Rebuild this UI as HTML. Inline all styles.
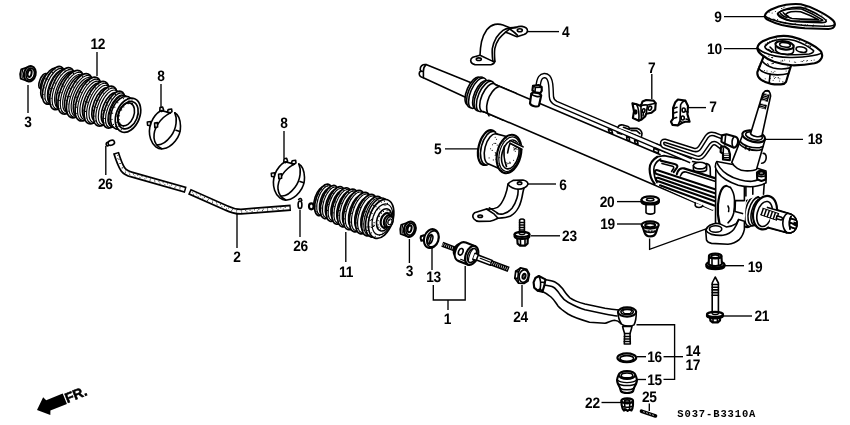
<!DOCTYPE html>
<html><head><meta charset="utf-8"><title>Steering gear box</title>
<style>
html,body{margin:0;padding:0;background:#fff;}
body{width:850px;height:425px;overflow:hidden;}
svg{display:block;filter:grayscale(1) blur(0.35px);}
.l{font-family:"Liberation Sans",sans-serif;font-weight:bold;font-size:15.1px;text-rendering:geometricPrecision;letter-spacing:-0.3px;fill:#000;text-anchor:middle;}
.m{font-family:"Liberation Mono",monospace;font-size:12px;fill:#000;}
.k{stroke:#000;stroke-width:1.6;fill:none;stroke-linecap:round;stroke-linejoin:round;}
.w{stroke:#000;stroke-width:1.6;fill:#fff;stroke-linecap:round;stroke-linejoin:round;}
.t{stroke:#000;stroke-width:1.15;fill:none;stroke-linecap:round;stroke-linejoin:round;}
.tw{stroke:#000;stroke-width:1.15;fill:#fff;stroke-linecap:round;stroke-linejoin:round;}
.h{stroke:#000;stroke-width:2.15;fill:none;stroke-linecap:round;stroke-linejoin:round;}
.hw{stroke:#000;stroke-width:2.15;fill:#fff;stroke-linecap:round;stroke-linejoin:round;}
.bw{stroke:#000;stroke-width:1.7;fill:#fff;stroke-linecap:round;stroke-linejoin:round;}
.ld{stroke:#000;stroke-width:1.35;fill:none;}
.b{fill:#000;stroke:none;}
</style></head><body>
<svg width="850" height="425" viewBox="0 0 850 425">
<rect width="850" height="425" fill="#fff"/>
<!-- 10_boots.py -->
<g><ellipse class="w" cx="43.0" cy="81.0" rx="3.2" ry="8.0" transform="rotate(21.9 43.0 81.0)"/>
<ellipse class="w" cx="45.5" cy="82.0" rx="3.8" ry="9.5" transform="rotate(21.9 45.5 82.0)"/>
<ellipse class="w" cx="50.1" cy="83.8" rx="7.6" ry="16.8" transform="rotate(21.9 50.1 83.8)"/>
<circle class="b" cx="44.2" cy="97.6" r="0.6"/>
<circle class="b" cx="42.6" cy="95.5" r="0.6"/>
<circle class="b" cx="42.2" cy="90.0" r="0.6"/>
<circle class="b" cx="42.9" cy="86.0" r="0.6"/>
<circle class="b" cx="45.6" cy="78.8" r="0.6"/>
<circle class="b" cx="48.4" cy="74.3" r="0.6"/>
<circle class="b" cx="51.2" cy="71.3" r="0.6"/>
<circle class="b" cx="54.9" cy="69.7" r="0.6"/>
<ellipse class="bw" cx="53.6" cy="85.3" rx="9.0" ry="20.0" transform="rotate(21.9 53.6 85.3)"/>
<circle class="b" cx="46.9" cy="102.2" r="0.6"/>
<circle class="b" cx="44.3" cy="98.8" r="0.6"/>
<circle class="b" cx="43.8" cy="94.5" r="0.6"/>
<circle class="b" cx="44.8" cy="87.8" r="0.6"/>
<circle class="b" cx="47.9" cy="79.5" r="0.6"/>
<circle class="b" cx="52.4" cy="72.5" r="0.6"/>
<circle class="b" cx="55.1" cy="69.9" r="0.6"/>
<circle class="b" cx="59.0" cy="68.2" r="0.6"/>
<ellipse class="t" cx="55.3" cy="86.0" rx="8.4" ry="18.7" transform="rotate(21.9 55.3 86.0)"/>
<ellipse class="t" cx="56.9" cy="86.6" rx="7.7" ry="17.2" transform="rotate(21.9 56.9 86.6)"/>
<ellipse class="w" cx="58.7" cy="87.3" rx="8.6" ry="19.1" transform="rotate(21.9 58.7 87.3)"/>
<circle class="b" cx="51.5" cy="102.9" r="0.6"/>
<circle class="b" cx="49.6" cy="99.0" r="0.6"/>
<circle class="b" cx="49.5" cy="94.6" r="0.6"/>
<circle class="b" cx="50.6" cy="88.7" r="0.6"/>
<circle class="b" cx="54.1" cy="80.1" r="0.6"/>
<circle class="b" cx="56.1" cy="77.1" r="0.6"/>
<circle class="b" cx="61.4" cy="71.8" r="0.6"/>
<circle class="b" cx="63.9" cy="71.0" r="0.6"/>
<ellipse class="bw" cx="62.2" cy="88.7" rx="10.0" ry="22.3" transform="rotate(21.9 62.2 88.7)"/>
<circle class="b" cx="54.5" cy="107.7" r="0.6"/>
<circle class="b" cx="52.0" cy="104.7" r="0.6"/>
<circle class="b" cx="51.2" cy="98.3" r="0.6"/>
<circle class="b" cx="53.1" cy="88.6" r="0.6"/>
<circle class="b" cx="55.3" cy="83.2" r="0.6"/>
<circle class="b" cx="60.3" cy="75.0" r="0.6"/>
<circle class="b" cx="65.0" cy="70.6" r="0.6"/>
<circle class="b" cx="68.6" cy="69.5" r="0.6"/>
<ellipse class="t" cx="63.9" cy="89.4" rx="9.5" ry="21.0" transform="rotate(21.9 63.9 89.4)"/>
<ellipse class="t" cx="65.5" cy="90.0" rx="8.8" ry="19.5" transform="rotate(21.9 65.5 90.0)"/>
<ellipse class="w" cx="67.3" cy="90.8" rx="9.0" ry="20.0" transform="rotate(21.9 67.3 90.8)"/>
<circle class="b" cx="59.8" cy="107.3" r="0.6"/>
<circle class="b" cx="58.2" cy="105.1" r="0.6"/>
<circle class="b" cx="57.5" cy="100.0" r="0.6"/>
<circle class="b" cx="58.6" cy="92.9" r="0.6"/>
<circle class="b" cx="62.0" cy="84.2" r="0.6"/>
<circle class="b" cx="65.3" cy="79.0" r="0.6"/>
<circle class="b" cx="69.1" cy="75.1" r="0.6"/>
<circle class="b" cx="73.3" cy="73.7" r="0.6"/>
<ellipse class="bw" cx="70.9" cy="92.2" rx="10.4" ry="23.2" transform="rotate(21.9 70.9 92.2)"/>
<circle class="b" cx="62.2" cy="111.7" r="0.6"/>
<circle class="b" cx="60.0" cy="108.5" r="0.6"/>
<circle class="b" cx="59.5" cy="100.3" r="0.6"/>
<circle class="b" cx="61.1" cy="92.6" r="0.6"/>
<circle class="b" cx="63.7" cy="86.1" r="0.6"/>
<circle class="b" cx="68.8" cy="77.8" r="0.6"/>
<circle class="b" cx="73.5" cy="73.4" r="0.6"/>
<circle class="b" cx="78.5" cy="72.2" r="0.6"/>
<ellipse class="t" cx="72.6" cy="92.9" rx="9.9" ry="21.9" transform="rotate(21.9 72.6 92.9)"/>
<ellipse class="t" cx="74.1" cy="93.5" rx="9.2" ry="20.4" transform="rotate(21.9 74.1 93.5)"/>
<ellipse class="w" cx="75.9" cy="94.2" rx="9.1" ry="20.2" transform="rotate(21.9 75.9 94.2)"/>
<circle class="b" cx="68.1" cy="110.8" r="0.6"/>
<circle class="b" cx="66.6" cy="108.2" r="0.6"/>
<circle class="b" cx="66.3" cy="100.6" r="0.6"/>
<circle class="b" cx="67.0" cy="96.7" r="0.6"/>
<circle class="b" cx="70.1" cy="88.4" r="0.6"/>
<circle class="b" cx="74.5" cy="81.5" r="0.6"/>
<circle class="b" cx="77.4" cy="78.6" r="0.6"/>
<circle class="b" cx="81.8" cy="76.9" r="0.6"/>
<ellipse class="bw" cx="79.5" cy="95.7" rx="10.5" ry="23.4" transform="rotate(21.9 79.5 95.7)"/>
<circle class="b" cx="71.5" cy="115.7" r="0.6"/>
<circle class="b" cx="68.2" cy="111.1" r="0.6"/>
<circle class="b" cx="68.0" cy="104.0" r="0.6"/>
<circle class="b" cx="69.5" cy="96.6" r="0.6"/>
<circle class="b" cx="73.5" cy="87.0" r="0.6"/>
<circle class="b" cx="76.7" cy="82.0" r="0.6"/>
<circle class="b" cx="82.5" cy="76.5" r="0.6"/>
<circle class="b" cx="86.6" cy="75.4" r="0.6"/>
<ellipse class="t" cx="81.2" cy="96.4" rx="9.9" ry="22.1" transform="rotate(21.9 81.2 96.4)"/>
<ellipse class="t" cx="82.7" cy="97.0" rx="9.3" ry="20.6" transform="rotate(21.9 82.7 97.0)"/>
<ellipse class="w" cx="84.5" cy="97.7" rx="9.0" ry="20.0" transform="rotate(21.9 84.5 97.7)"/>
<circle class="b" cx="77.0" cy="114.2" r="0.6"/>
<circle class="b" cx="75.2" cy="111.2" r="0.6"/>
<circle class="b" cx="74.9" cy="104.5" r="0.6"/>
<circle class="b" cx="76.6" cy="97.2" r="0.6"/>
<circle class="b" cx="78.9" cy="91.8" r="0.6"/>
<circle class="b" cx="83.0" cy="85.3" r="0.6"/>
<circle class="b" cx="85.8" cy="82.4" r="0.6"/>
<circle class="b" cx="90.7" cy="80.7" r="0.6"/>
<ellipse class="bw" cx="88.1" cy="99.1" rx="10.4" ry="23.2" transform="rotate(21.9 88.1 99.1)"/>
<circle class="b" cx="79.2" cy="118.5" r="0.6"/>
<circle class="b" cx="76.8" cy="113.5" r="0.6"/>
<circle class="b" cx="76.7" cy="107.2" r="0.6"/>
<circle class="b" cx="77.9" cy="101.2" r="0.6"/>
<circle class="b" cx="81.2" cy="92.5" r="0.6"/>
<circle class="b" cx="86.2" cy="84.5" r="0.6"/>
<circle class="b" cx="89.5" cy="81.2" r="0.6"/>
<circle class="b" cx="94.9" cy="79.0" r="0.6"/>
<ellipse class="t" cx="89.8" cy="99.8" rx="9.9" ry="21.9" transform="rotate(21.9 89.8 99.8)"/>
<ellipse class="t" cx="91.3" cy="100.4" rx="9.2" ry="20.4" transform="rotate(21.9 91.3 100.4)"/>
<ellipse class="w" cx="93.2" cy="101.2" rx="8.7" ry="19.3" transform="rotate(21.9 93.2 101.2)"/>
<circle class="b" cx="86.5" cy="117.4" r="0.6"/>
<circle class="b" cx="84.4" cy="114.8" r="0.6"/>
<circle class="b" cx="83.8" cy="110.1" r="0.6"/>
<circle class="b" cx="85.4" cy="101.3" r="0.6"/>
<circle class="b" cx="87.2" cy="96.6" r="0.6"/>
<circle class="b" cx="90.9" cy="90.3" r="0.6"/>
<circle class="b" cx="95.1" cy="86.0" r="0.6"/>
<circle class="b" cx="99.4" cy="84.8" r="0.6"/>
<ellipse class="bw" cx="96.7" cy="102.6" rx="10.1" ry="22.5" transform="rotate(21.9 96.7 102.6)"/>
<circle class="b" cx="89.0" cy="121.8" r="0.6"/>
<circle class="b" cx="86.1" cy="118.0" r="0.6"/>
<circle class="b" cx="85.6" cy="111.4" r="0.6"/>
<circle class="b" cx="87.6" cy="102.2" r="0.6"/>
<circle class="b" cx="90.9" cy="94.6" r="0.6"/>
<circle class="b" cx="95.4" cy="87.9" r="0.6"/>
<circle class="b" cx="98.7" cy="84.8" r="0.6"/>
<circle class="b" cx="103.2" cy="83.1" r="0.6"/>
<ellipse class="t" cx="98.4" cy="103.3" rx="9.5" ry="21.2" transform="rotate(21.9 98.4 103.3)"/>
<ellipse class="t" cx="100.0" cy="103.9" rx="8.9" ry="19.7" transform="rotate(21.9 100.0 103.9)"/>
<ellipse class="w" cx="101.8" cy="104.6" rx="8.1" ry="18.0" transform="rotate(21.9 101.8 104.6)"/>
<circle class="b" cx="95.4" cy="119.5" r="0.6"/>
<circle class="b" cx="93.3" cy="115.8" r="0.6"/>
<circle class="b" cx="93.3" cy="110.4" r="0.6"/>
<circle class="b" cx="94.0" cy="106.7" r="0.6"/>
<circle class="b" cx="96.4" cy="100.3" r="0.6"/>
<circle class="b" cx="99.7" cy="94.6" r="0.6"/>
<circle class="b" cx="103.3" cy="90.8" r="0.6"/>
<circle class="b" cx="107.0" cy="89.4" r="0.6"/>
<ellipse class="bw" cx="105.3" cy="106.1" rx="9.5" ry="21.2" transform="rotate(21.9 105.3 106.1)"/>
<circle class="b" cx="97.3" cy="123.7" r="0.6"/>
<circle class="b" cx="95.5" cy="120.9" r="0.6"/>
<circle class="b" cx="94.9" cy="116.1" r="0.6"/>
<circle class="b" cx="96.3" cy="107.5" r="0.6"/>
<circle class="b" cx="99.1" cy="100.1" r="0.6"/>
<circle class="b" cx="103.4" cy="93.1" r="0.6"/>
<circle class="b" cx="108.6" cy="88.5" r="0.6"/>
<circle class="b" cx="111.9" cy="87.9" r="0.6"/>
<ellipse class="t" cx="107.0" cy="106.8" rx="9.0" ry="19.9" transform="rotate(21.9 107.0 106.8)"/>
<ellipse class="t" cx="108.6" cy="107.4" rx="8.3" ry="18.4" transform="rotate(21.9 108.6 107.4)"/>
<ellipse class="w" cx="110.4" cy="108.1" rx="7.4" ry="16.4" transform="rotate(21.9 110.4 108.1)"/>
<circle class="b" cx="104.5" cy="121.4" r="0.6"/>
<circle class="b" cx="102.9" cy="118.7" r="0.6"/>
<circle class="b" cx="102.7" cy="114.0" r="0.6"/>
<circle class="b" cx="103.4" cy="110.3" r="0.6"/>
<circle class="b" cx="106.5" cy="102.3" r="0.6"/>
<circle class="b" cx="109.4" cy="98.0" r="0.6"/>
<circle class="b" cx="112.8" cy="95.0" r="0.6"/>
<circle class="b" cx="115.5" cy="94.5" r="0.6"/>
<ellipse class="bw" cx="114.0" cy="109.6" rx="8.8" ry="19.6" transform="rotate(21.9 114.0 109.6)"/>
<circle class="b" cx="106.9" cy="125.8" r="0.6"/>
<circle class="b" cx="104.9" cy="122.9" r="0.6"/>
<circle class="b" cx="104.4" cy="118.5" r="0.6"/>
<circle class="b" cx="105.9" cy="110.1" r="0.6"/>
<circle class="b" cx="107.8" cy="105.1" r="0.6"/>
<circle class="b" cx="111.3" cy="98.9" r="0.6"/>
<circle class="b" cx="115.5" cy="94.4" r="0.6"/>
<circle class="b" cx="119.2" cy="92.8" r="0.6"/>
<ellipse class="t" cx="115.7" cy="110.2" rx="8.2" ry="18.3" transform="rotate(21.9 115.7 110.2)"/>
<ellipse class="t" cx="117.2" cy="110.8" rx="7.6" ry="16.8" transform="rotate(21.9 117.2 110.8)"/>
<ellipse class="w" cx="118.7" cy="111.4" rx="8.4" ry="16.8" transform="rotate(21.9 118.7 111.4)"/>
<circle class="b" cx="112.7" cy="125.2" r="0.6"/>
<circle class="b" cx="110.9" cy="123.1" r="0.6"/>
<circle class="b" cx="110.1" cy="119.0" r="0.6"/>
<circle class="b" cx="110.8" cy="113.1" r="0.6"/>
<circle class="b" cx="112.8" cy="107.3" r="0.6"/>
<circle class="b" cx="116.3" cy="101.6" r="0.6"/>
<circle class="b" cx="119.3" cy="98.7" r="0.6"/>
<circle class="b" cx="124.0" cy="97.4" r="0.6"/>
<ellipse class="w" cx="122.0" cy="112.8" rx="10.3" ry="17.2" transform="rotate(21.9 122.0 112.8)"/>
<circle class="b" cx="115.4" cy="126.6" r="0.6"/>
<circle class="b" cx="113.4" cy="124.4" r="0.6"/>
<circle class="b" cx="112.0" cy="119.4" r="0.6"/>
<circle class="b" cx="112.6" cy="113.2" r="0.6"/>
<circle class="b" cx="114.8" cy="107.2" r="0.6"/>
<circle class="b" cx="117.8" cy="102.7" r="0.6"/>
<circle class="b" cx="123.4" cy="98.6" r="0.6"/>
<circle class="b" cx="127.6" cy="98.5" r="0.6"/>
<ellipse class="bw" cx="128.0" cy="115.2" rx="11.7" ry="17.8" transform="rotate(21.9 128.0 115.2)"/>
<circle class="b" cx="121.3" cy="129.7" r="0.6"/>
<circle class="b" cx="118.1" cy="126.3" r="0.6"/>
<circle class="b" cx="116.9" cy="122.3" r="0.6"/>
<circle class="b" cx="117.0" cy="116.1" r="0.6"/>
<circle class="b" cx="119.5" cy="109.0" r="0.6"/>
<circle class="b" cx="123.1" cy="104.0" r="0.6"/>
<circle class="b" cx="129.0" cy="100.2" r="0.6"/>
<circle class="b" cx="132.0" cy="99.9" r="0.6"/>
<ellipse class="bw" cx="128.0" cy="115.2" rx="9.4" ry="14.3" transform="rotate(21.9 128.0 115.2)"/>
<circle class="b" cx="123.4" cy="126.8" r="0.6"/>
<circle class="b" cx="119.9" cy="123.1" r="0.6"/>
<circle class="b" cx="119.2" cy="119.7" r="0.6"/>
<circle class="b" cx="119.5" cy="115.8" r="0.6"/>
<circle class="b" cx="121.6" cy="109.9" r="0.6"/>
<circle class="b" cx="123.8" cy="106.9" r="0.6"/>
<circle class="b" cx="128.2" cy="103.7" r="0.6"/>
<circle class="b" cx="132.5" cy="103.5" r="0.6"/>
<ellipse class="k" cx="126.1" cy="114.4" rx="7.7" ry="12.0" transform="rotate(21.9 126.1 114.4)"/></g><g><ellipse class="hw" cx="311.3" cy="206.3" rx="2.3" ry="3"/><ellipse class="w" cx="320.7" cy="199.1" rx="5.9" ry="13.1" transform="rotate(18.2 320.7 199.1)"/>
<circle class="b" cx="316.5" cy="209.4" r="0.6"/>
<circle class="b" cx="315.5" cy="207.5" r="0.6"/>
<circle class="b" cx="315.1" cy="204.9" r="0.6"/>
<circle class="b" cx="315.7" cy="200.4" r="0.6"/>
<circle class="b" cx="316.9" cy="196.4" r="0.6"/>
<circle class="b" cx="319.5" cy="191.3" r="0.6"/>
<circle class="b" cx="321.6" cy="189.1" r="0.6"/>
<circle class="b" cx="323.9" cy="188.3" r="0.6"/>
<ellipse class="bw" cx="323.4" cy="199.9" rx="7.4" ry="16.5" transform="rotate(18.2 323.4 199.9)"/>
<circle class="b" cx="318.5" cy="213.8" r="0.6"/>
<circle class="b" cx="316.8" cy="211.7" r="0.6"/>
<circle class="b" cx="316.1" cy="206.0" r="0.6"/>
<circle class="b" cx="317.1" cy="199.8" r="0.6"/>
<circle class="b" cx="319.1" cy="194.5" r="0.6"/>
<circle class="b" cx="321.8" cy="189.7" r="0.6"/>
<circle class="b" cx="324.9" cy="186.7" r="0.6"/>
<circle class="b" cx="327.6" cy="185.9" r="0.6"/>
<ellipse class="t" cx="324.7" cy="200.4" rx="6.8" ry="15.2" transform="rotate(18.2 324.7 200.4)"/>
<ellipse class="w" cx="326.8" cy="201.1" rx="6.3" ry="13.9" transform="rotate(18.2 326.8 201.1)"/>
<circle class="b" cx="322.9" cy="212.5" r="0.6"/>
<circle class="b" cx="321.3" cy="210.4" r="0.6"/>
<circle class="b" cx="320.9" cy="207.1" r="0.6"/>
<circle class="b" cx="321.3" cy="203.3" r="0.6"/>
<circle class="b" cx="322.6" cy="198.5" r="0.6"/>
<circle class="b" cx="325.0" cy="193.6" r="0.6"/>
<circle class="b" cx="327.4" cy="190.7" r="0.6"/>
<circle class="b" cx="330.2" cy="189.5" r="0.6"/>
<ellipse class="bw" cx="329.5" cy="202.0" rx="7.8" ry="17.3" transform="rotate(18.2 329.5 202.0)"/>
<circle class="b" cx="323.7" cy="216.1" r="0.6"/>
<circle class="b" cx="322.4" cy="214.0" r="0.6"/>
<circle class="b" cx="321.8" cy="208.0" r="0.6"/>
<circle class="b" cx="322.9" cy="201.8" r="0.6"/>
<circle class="b" cx="325.1" cy="195.9" r="0.6"/>
<circle class="b" cx="327.1" cy="192.2" r="0.6"/>
<circle class="b" cx="330.1" cy="188.7" r="0.6"/>
<circle class="b" cx="333.2" cy="187.1" r="0.6"/>
<ellipse class="t" cx="330.9" cy="202.4" rx="7.2" ry="16.0" transform="rotate(18.2 330.9 202.4)"/>
<ellipse class="w" cx="333.0" cy="203.1" rx="6.6" ry="14.7" transform="rotate(18.2 333.0 203.1)"/>
<circle class="b" cx="328.8" cy="215.3" r="0.6"/>
<circle class="b" cx="327.2" cy="213.5" r="0.6"/>
<circle class="b" cx="326.6" cy="208.9" r="0.6"/>
<circle class="b" cx="327.5" cy="203.2" r="0.6"/>
<circle class="b" cx="329.2" cy="198.3" r="0.6"/>
<circle class="b" cx="331.2" cy="194.8" r="0.6"/>
<circle class="b" cx="334.1" cy="191.6" r="0.6"/>
<circle class="b" cx="336.7" cy="190.8" r="0.6"/>
<ellipse class="bw" cx="335.7" cy="204.0" rx="8.1" ry="18.1" transform="rotate(18.2 335.7 204.0)"/>
<circle class="b" cx="330.6" cy="219.5" r="0.6"/>
<circle class="b" cx="328.0" cy="216.2" r="0.6"/>
<circle class="b" cx="327.5" cy="210.4" r="0.6"/>
<circle class="b" cx="328.5" cy="204.5" r="0.6"/>
<circle class="b" cx="330.7" cy="198.2" r="0.6"/>
<circle class="b" cx="333.3" cy="193.4" r="0.6"/>
<circle class="b" cx="336.2" cy="190.1" r="0.6"/>
<circle class="b" cx="340.4" cy="188.4" r="0.6"/>
<ellipse class="t" cx="337.0" cy="204.4" rx="7.6" ry="16.8" transform="rotate(18.2 337.0 204.4)"/>
<ellipse class="w" cx="339.1" cy="205.1" rx="7.0" ry="15.5" transform="rotate(18.2 339.1 205.1)"/>
<circle class="b" cx="334.6" cy="218.0" r="0.6"/>
<circle class="b" cx="332.7" cy="215.1" r="0.6"/>
<circle class="b" cx="332.4" cy="210.4" r="0.6"/>
<circle class="b" cx="332.9" cy="206.6" r="0.6"/>
<circle class="b" cx="334.6" cy="201.2" r="0.6"/>
<circle class="b" cx="337.9" cy="195.4" r="0.6"/>
<circle class="b" cx="340.4" cy="192.8" r="0.6"/>
<circle class="b" cx="342.3" cy="192.0" r="0.6"/>
<ellipse class="bw" cx="341.8" cy="206.0" rx="8.5" ry="18.9" transform="rotate(18.2 341.8 206.0)"/>
<circle class="b" cx="336.4" cy="222.2" r="0.6"/>
<circle class="b" cx="334.1" cy="219.8" r="0.6"/>
<circle class="b" cx="333.3" cy="212.8" r="0.6"/>
<circle class="b" cx="334.3" cy="206.4" r="0.6"/>
<circle class="b" cx="335.7" cy="201.9" r="0.6"/>
<circle class="b" cx="339.9" cy="194.1" r="0.6"/>
<circle class="b" cx="343.8" cy="190.4" r="0.6"/>
<circle class="b" cx="346.5" cy="189.6" r="0.6"/>
<ellipse class="t" cx="343.2" cy="206.4" rx="7.9" ry="17.6" transform="rotate(18.2 343.2 206.4)"/>
<ellipse class="w" cx="345.3" cy="207.1" rx="7.3" ry="16.3" transform="rotate(18.2 345.3 207.1)"/>
<circle class="b" cx="340.4" cy="220.8" r="0.6"/>
<circle class="b" cx="338.5" cy="218.2" r="0.6"/>
<circle class="b" cx="338.0" cy="214.9" r="0.6"/>
<circle class="b" cx="338.5" cy="209.8" r="0.6"/>
<circle class="b" cx="341.2" cy="201.4" r="0.6"/>
<circle class="b" cx="343.5" cy="197.4" r="0.6"/>
<circle class="b" cx="346.3" cy="194.3" r="0.6"/>
<circle class="b" cx="349.6" cy="193.3" r="0.6"/>
<ellipse class="bw" cx="348.0" cy="208.0" rx="8.9" ry="19.7" transform="rotate(18.2 348.0 208.0)"/>
<circle class="b" cx="341.9" cy="224.8" r="0.6"/>
<circle class="b" cx="339.4" cy="220.9" r="0.6"/>
<circle class="b" cx="339.0" cy="215.4" r="0.6"/>
<circle class="b" cx="339.6" cy="210.6" r="0.6"/>
<circle class="b" cx="341.7" cy="203.3" r="0.6"/>
<circle class="b" cx="345.0" cy="196.9" r="0.6"/>
<circle class="b" cx="348.6" cy="192.6" r="0.6"/>
<circle class="b" cx="352.8" cy="190.9" r="0.6"/>
<ellipse class="t" cx="349.3" cy="208.5" rx="8.3" ry="18.4" transform="rotate(18.2 349.3 208.5)"/>
<ellipse class="w" cx="351.4" cy="209.2" rx="7.7" ry="17.1" transform="rotate(18.2 351.4 209.2)"/>
<circle class="b" cx="346.4" cy="223.6" r="0.6"/>
<circle class="b" cx="344.4" cy="221.1" r="0.6"/>
<circle class="b" cx="343.8" cy="217.3" r="0.6"/>
<circle class="b" cx="344.8" cy="209.3" r="0.6"/>
<circle class="b" cx="346.3" cy="204.9" r="0.6"/>
<circle class="b" cx="349.2" cy="199.3" r="0.6"/>
<circle class="b" cx="352.5" cy="195.6" r="0.6"/>
<circle class="b" cx="356.0" cy="194.6" r="0.6"/>
<ellipse class="bw" cx="354.1" cy="210.0" rx="9.2" ry="20.5" transform="rotate(18.2 354.1 210.0)"/>
<circle class="b" cx="347.7" cy="227.6" r="0.6"/>
<circle class="b" cx="345.1" cy="223.4" r="0.6"/>
<circle class="b" cx="344.6" cy="218.8" r="0.6"/>
<circle class="b" cx="345.6" cy="211.5" r="0.6"/>
<circle class="b" cx="348.0" cy="204.2" r="0.6"/>
<circle class="b" cx="350.5" cy="199.2" r="0.6"/>
<circle class="b" cx="355.2" cy="193.6" r="0.6"/>
<circle class="b" cx="358.4" cy="192.1" r="0.6"/>
<ellipse class="t" cx="355.4" cy="210.5" rx="8.6" ry="19.2" transform="rotate(18.2 355.4 210.5)"/>
<ellipse class="w" cx="357.5" cy="211.2" rx="7.7" ry="17.1" transform="rotate(18.2 357.5 211.2)"/>
<circle class="b" cx="352.9" cy="225.7" r="0.6"/>
<circle class="b" cx="350.3" cy="222.4" r="0.6"/>
<circle class="b" cx="349.9" cy="219.2" r="0.6"/>
<circle class="b" cx="350.6" cy="212.6" r="0.6"/>
<circle class="b" cx="352.9" cy="205.8" r="0.6"/>
<circle class="b" cx="355.5" cy="201.1" r="0.6"/>
<circle class="b" cx="358.3" cy="197.9" r="0.6"/>
<circle class="b" cx="361.6" cy="196.5" r="0.6"/>
<ellipse class="bw" cx="360.2" cy="212.1" rx="9.2" ry="20.5" transform="rotate(18.2 360.2 212.1)"/>
<circle class="b" cx="353.7" cy="229.5" r="0.6"/>
<circle class="b" cx="351.3" cy="225.8" r="0.6"/>
<circle class="b" cx="350.8" cy="222.1" r="0.6"/>
<circle class="b" cx="351.7" cy="213.5" r="0.6"/>
<circle class="b" cx="353.7" cy="207.2" r="0.6"/>
<circle class="b" cx="357.1" cy="200.5" r="0.6"/>
<circle class="b" cx="362.0" cy="195.2" r="0.6"/>
<circle class="b" cx="365.1" cy="194.1" r="0.6"/>
<ellipse class="t" cx="361.6" cy="212.5" rx="8.6" ry="19.2" transform="rotate(18.2 361.6 212.5)"/>
<ellipse class="w" cx="363.7" cy="213.2" rx="7.7" ry="17.1" transform="rotate(18.2 363.7 213.2)"/>
<circle class="b" cx="358.3" cy="227.5" r="0.6"/>
<circle class="b" cx="356.5" cy="224.5" r="0.6"/>
<circle class="b" cx="356.1" cy="219.2" r="0.6"/>
<circle class="b" cx="356.7" cy="214.7" r="0.6"/>
<circle class="b" cx="358.9" cy="208.2" r="0.6"/>
<circle class="b" cx="361.5" cy="203.2" r="0.6"/>
<circle class="b" cx="364.7" cy="199.7" r="0.6"/>
<circle class="b" cx="368.0" cy="198.6" r="0.6"/>
<ellipse class="bw" cx="366.4" cy="214.1" rx="9.2" ry="20.5" transform="rotate(18.2 366.4 214.1)"/>
<circle class="b" cx="360.0" cy="231.6" r="0.6"/>
<circle class="b" cx="357.6" cy="228.4" r="0.6"/>
<circle class="b" cx="356.9" cy="222.9" r="0.6"/>
<circle class="b" cx="358.2" cy="214.0" r="0.6"/>
<circle class="b" cx="360.5" cy="207.6" r="0.6"/>
<circle class="b" cx="364.4" cy="200.9" r="0.6"/>
<circle class="b" cx="368.4" cy="197.0" r="0.6"/>
<circle class="b" cx="370.9" cy="196.2" r="0.6"/>
<ellipse class="t" cx="367.7" cy="214.5" rx="8.6" ry="19.2" transform="rotate(18.2 367.7 214.5)"/>
<ellipse class="w" cx="369.8" cy="215.2" rx="7.7" ry="17.1" transform="rotate(18.2 369.8 215.2)"/>
<circle class="b" cx="364.5" cy="229.5" r="0.6"/>
<circle class="b" cx="362.5" cy="226.1" r="0.6"/>
<circle class="b" cx="362.2" cy="221.5" r="0.6"/>
<circle class="b" cx="362.7" cy="217.7" r="0.6"/>
<circle class="b" cx="364.4" cy="211.6" r="0.6"/>
<circle class="b" cx="367.6" cy="205.4" r="0.6"/>
<circle class="b" cx="370.2" cy="202.3" r="0.6"/>
<circle class="b" cx="373.5" cy="200.6" r="0.6"/>
<ellipse class="bw" cx="372.5" cy="216.1" rx="9.2" ry="20.5" transform="rotate(18.2 372.5 216.1)"/>
<circle class="b" cx="366.7" cy="233.9" r="0.6"/>
<circle class="b" cx="363.7" cy="230.1" r="0.6"/>
<circle class="b" cx="363.1" cy="223.9" r="0.6"/>
<circle class="b" cx="364.3" cy="216.2" r="0.6"/>
<circle class="b" cx="365.8" cy="211.6" r="0.6"/>
<circle class="b" cx="370.2" cy="203.3" r="0.6"/>
<circle class="b" cx="374.0" cy="199.4" r="0.6"/>
<circle class="b" cx="376.8" cy="198.2" r="0.6"/>
<ellipse class="t" cx="373.9" cy="216.5" rx="8.6" ry="19.2" transform="rotate(18.2 373.9 216.5)"/>
<ellipse class="w" cx="377.1" cy="217.6" rx="10.2" ry="20.3" transform="rotate(18.2 377.1 217.6)"/>
<circle class="b" cx="370.0" cy="234.5" r="0.6"/>
<circle class="b" cx="367.6" cy="230.5" r="0.6"/>
<circle class="b" cx="367.0" cy="226.9" r="0.6"/>
<circle class="b" cx="368.0" cy="217.2" r="0.6"/>
<circle class="b" cx="369.8" cy="211.9" r="0.6"/>
<circle class="b" cx="373.5" cy="205.3" r="0.6"/>
<circle class="b" cx="378.8" cy="200.5" r="0.6"/>
<circle class="b" cx="382.4" cy="199.9" r="0.6"/>
<ellipse class="bw" cx="381.1" cy="218.9" rx="11.7" ry="20.2" transform="rotate(18.2 381.1 218.9)"/>
<circle class="b" cx="375.2" cy="236.3" r="0.6"/>
<circle class="b" cx="371.4" cy="232.8" r="0.6"/>
<circle class="b" cx="369.8" cy="226.8" r="0.6"/>
<circle class="b" cx="370.2" cy="220.3" r="0.6"/>
<circle class="b" cx="372.1" cy="213.5" r="0.6"/>
<circle class="b" cx="376.0" cy="206.7" r="0.6"/>
<circle class="b" cx="381.5" cy="202.0" r="0.6"/>
<circle class="b" cx="384.5" cy="201.2" r="0.6"/>
<ellipse class="t" cx="382.4" cy="219.4" rx="9.6" ry="16.0" transform="rotate(18.2 382.4 219.4)"/>
<ellipse class="w" cx="384.1" cy="219.9" rx="7.1" ry="11.5" transform="rotate(18.2 384.1 219.9)"/>
<circle class="b" cx="380.6" cy="228.9" r="0.6"/>
<circle class="b" cx="378.9" cy="227.2" r="0.6"/>
<circle class="b" cx="378.1" cy="224.9" r="0.6"/>
<circle class="b" cx="378.1" cy="220.6" r="0.6"/>
<circle class="b" cx="379.5" cy="216.2" r="0.6"/>
<circle class="b" cx="381.4" cy="213.2" r="0.6"/>
<circle class="b" cx="383.4" cy="211.4" r="0.6"/>
<circle class="b" cx="387.1" cy="210.7" r="0.6"/>
<ellipse class="hw" cx="385.8" cy="220.5" rx="4.8" ry="7.5" transform="rotate(18.2 385.8 220.5)"/>
<ellipse class="hw" cx="387.9" cy="221.1" rx="3.8" ry="6.0" transform="rotate(18.2 387.9 221.1)"/>
<ellipse class="w" cx="389.5" cy="221.7" rx="3.3" ry="5.2" transform="rotate(18.2 389.5 221.7)"/>
<ellipse class="t" cx="389.9" cy="221.8" rx="1.9" ry="3.0" transform="rotate(18.2 389.9 221.8)"/><circle class="b" cx="389.7" cy="220.5" r="0.6"/><circle class="b" cx="384.1" cy="230.9" r="0.6"/><circle class="b" cx="374.3" cy="225.7" r="0.6"/><circle class="b" cx="387.4" cy="203.4" r="0.6"/><circle class="b" cx="388.2" cy="222.0" r="0.6"/><circle class="b" cx="385.8" cy="205.1" r="0.6"/><circle class="b" cx="377.3" cy="209.7" r="0.6"/><circle class="b" cx="373.9" cy="225.1" r="0.6"/><circle class="b" cx="371.4" cy="227.5" r="0.6"/><circle class="b" cx="375.3" cy="233.8" r="0.6"/><circle class="b" cx="374.1" cy="222.7" r="0.6"/><circle class="b" cx="373.7" cy="215.6" r="0.6"/><circle class="b" cx="386.3" cy="224.5" r="0.6"/><circle class="b" cx="378.8" cy="207.9" r="0.6"/><circle class="b" cx="371.7" cy="219.3" r="0.6"/><circle class="b" cx="371.5" cy="219.8" r="0.6"/><circle class="b" cx="382.8" cy="233.1" r="0.6"/><circle class="b" cx="379.6" cy="235.5" r="0.6"/><circle class="b" cx="379.8" cy="209.0" r="0.6"/><circle class="b" cx="389.3" cy="212.5" r="0.6"/><circle class="b" cx="384.2" cy="205.1" r="0.6"/><circle class="b" cx="373.5" cy="226.4" r="0.6"/></g>
<!-- 34_bushing.py -->
<g>
<ellipse class="hw" cx="487.6" cy="147.6" rx="9" ry="17.8" transform="rotate(14 487.6 147.6)"/>
<ellipse class="w" cx="489.8" cy="148.2" rx="8.6" ry="17.2" transform="rotate(14 489.8 148.2)"/>
<path class="w" d="M496.3 132.2L509.5 135.5L502 171.3L487.5 165.5Z" style="stroke:none"/>
<ellipse class="w" cx="492.5" cy="149" rx="7.6" ry="15.6" transform="rotate(14 492.5 149)"/>
<path class="w" d="M496.3 133.9L511.5 137.7L503.5 169.5L488.6 164.1Z" style="stroke:none"/>
<path class="k" d="M496.3 133.9L507.5 136.7M488.7 164.1L499 168.6"/>
<ellipse class="hw" cx="509" cy="154" rx="11.8" ry="19.6" transform="rotate(14 509 154)"/>
<ellipse class="t" cx="509.6" cy="154.2" rx="10.2" ry="17.6" transform="rotate(14 509.6 154.2)"/>
<ellipse class="w" cx="510.3" cy="154.5" rx="8.3" ry="14.6" transform="rotate(14 510.3 154.5)"/>
<path class="k" d="M504.5 146C503.5 152 504 160 506.5 166.5"/>
<path class="k" d="M510 143.2L521.5 149.3M511.5 141.6L522.5 147.4M510 143.2C509 146 508 150 507.6 153"/>
<path class="w" d="M512 140.3L523.5 146.2L522.5 150L510.3 143.6Z" style="stroke:none"/>
<path class="k" d="M510.5 143.4L521.8 149.3M511.8 141.2L523 146.8"/>
<circle class="b" cx="495.3" cy="152.5" r="0.55"/><circle class="b" cx="495.8" cy="153.4" r="0.55"/><circle class="b" cx="492.2" cy="150.4" r="0.55"/><circle class="b" cx="496.0" cy="159.2" r="0.55"/><circle class="b" cx="492.5" cy="144.7" r="0.55"/><circle class="b" cx="489.1" cy="157.9" r="0.55"/><circle class="b" cx="499.4" cy="164.8" r="0.55"/><circle class="b" cx="497.5" cy="154.6" r="0.55"/><circle class="b" cx="495.2" cy="137.3" r="0.55"/><circle class="b" cx="494.1" cy="143.4" r="0.55"/><circle class="b" cx="490.6" cy="148.7" r="0.55"/><circle class="b" cx="493.3" cy="159.9" r="0.55"/><circle class="b" cx="495.6" cy="154.8" r="0.55"/><circle class="b" cx="495.2" cy="155.3" r="0.55"/><circle class="b" cx="497.2" cy="145.1" r="0.55"/><circle class="b" cx="499.3" cy="165.6" r="0.55"/><circle class="b" cx="499.2" cy="157.6" r="0.55"/><circle class="b" cx="495.7" cy="143.4" r="0.55"/><circle class="b" cx="496.5" cy="139.2" r="0.55"/><circle class="b" cx="510.2" cy="163.2" r="0.55"/><circle class="b" cx="508.9" cy="163.4" r="0.55"/><circle class="b" cx="506.1" cy="165.7" r="0.55"/><circle class="b" cx="513.7" cy="147.7" r="0.55"/><circle class="b" cx="507.7" cy="163.8" r="0.55"/><circle class="b" cx="506.8" cy="162.8" r="0.55"/><circle class="b" cx="515.8" cy="146.7" r="0.55"/><circle class="b" cx="510.0" cy="162.5" r="0.55"/><circle class="b" cx="514.9" cy="148.4" r="0.55"/><circle class="b" cx="506.2" cy="165.1" r="0.55"/><circle class="b" cx="514.8" cy="149.4" r="0.55"/><circle class="b" cx="514.0" cy="149.9" r="0.55"/><circle class="b" cx="509.8" cy="162.0" r="0.55"/><circle class="b" cx="513.6" cy="160.3" r="0.55"/><circle class="b" cx="517.0" cy="149.5" r="0.55"/><circle class="b" cx="516.3" cy="148.1" r="0.55"/><circle class="b" cx="515.4" cy="148.6" r="0.55"/><circle class="b" cx="515.3" cy="151.3" r="0.55"/><circle class="b" cx="520.6" cy="153.4" r="0.5"/><circle class="b" cx="517.0" cy="137.9" r="0.5"/><circle class="b" cx="501.5" cy="170.2" r="0.5"/><circle class="b" cx="520.3" cy="144.1" r="0.5"/><circle class="b" cx="507.6" cy="172.2" r="0.5"/><circle class="b" cx="498.1" cy="163.2" r="0.5"/><circle class="b" cx="519.4" cy="141.4" r="0.5"/><circle class="b" cx="506.1" cy="138.4" r="0.5"/><circle class="b" cx="515.3" cy="166.9" r="0.5"/><circle class="b" cx="520.3" cy="155.5" r="0.5"/><circle class="b" cx="507.4" cy="172.3" r="0.5"/><circle class="b" cx="504.3" cy="172.0" r="0.5"/><circle class="b" cx="515.2" cy="136.6" r="0.5"/><circle class="b" cx="500.3" cy="168.7" r="0.5"/><circle class="b" cx="501.9" cy="170.6" r="0.5"/><circle class="b" cx="516.9" cy="164.5" r="0.5"/><circle class="b" cx="515.9" cy="166.0" r="0.5"/><circle class="b" cx="502.3" cy="142.9" r="0.5"/><circle class="b" cx="505.3" cy="172.2" r="0.5"/><circle class="b" cx="503.4" cy="141.3" r="0.5"/></g>
<!-- 51_parts9_10.py -->
<g>
<!-- part 9 -->
<path class="hw" d="M764.8 15.9C765.5 13 768 11 771.2 9.500C776 7.200 781 5.500 786 4.700C791 4 796 3.800 800.8 4.200C807 5.600 813 8 817.800 10.600C823 13.200 828 16 831.600 19.100C834 21 835.200 23.400 834.700 25.400C834.200 27.800 831.500 28.800 828.400 29L805 28.300C797 27.600 789 26.600 781.800 25C777 23.800 772.500 22.200 769 20.400C766.500 19.200 764.800 17.600 764.800 15.900Z"/>
<path class="k" d="M764.800 15.900C766.500 17.200 768.500 18.200 771 19.200C778 21.800 788 23.800 798 24.800C808 25.800 820 26.400 828 26.200C831.500 26 834 25.400 834.700 24.400"/>
<path class="k" d="M777.500 13.800C780 11.500 784 9.600 788.100 8.500C792 7.500 796.500 7.100 800.800 7.400C807.500 9 814 12.200 820 15.900C823 17.600 825.500 19.600 826.300 21.200C826 22.200 824.500 22.600 822 22.600L813.600 22.400C806 22.300 799 22 792.400 21.200C788.500 20.600 784.500 19.400 781.800 18C779.500 16.800 777.800 15.200 777.500 13.800Z"/>
<path class="k" d="M777.800 13.200C779.500 11.500 783 10.200 786.800 9.500C791.500 8.800 797 8.600 801.600 9C808.500 11.800 816.500 16 822.800 20.100C822 21 819 21.300 814.300 21.200L800 21.100C797 21 794 20.900 791 20.700C787.500 19.800 784 18.600 781.500 17C779.500 15.800 778 14.400 777.800 13.200Z"/>
<path class="k" d="M785.700 14.300C786.800 13 788.800 12.100 791 11.700C794 11.400 797.500 11.400 800.600 11.700C806.500 13.800 813 16.600 818.600 19.600L801.600 19.100C798.500 19 795 18.900 792 18.500C789.500 17.800 786.500 16 785.700 14.300Z"/>
<path class="h" d="M780.500 13.500C781.500 15 784 16.600 787 17.600M783.200 12.600C784 14 786 15.400 788.500 16.400" style="stroke-width:1.500"/>
</g>
<g>
<!-- part 10 body -->
<path class="hw" d="M763.800 56.100L757.400 72C757 75 758.200 77.600 760.600 79.400C763.500 81.600 767 83 771.200 83.900C775.500 84.600 780 84.600 783.900 83.900L786 82L791.300 64.600Z"/>
<path class="k" d="M762 61C765 64.500 769 66.800 773.300 68C779 69.300 785 69.200 790.300 67.800"/>
<path class="k" d="M758.500 68.600C761 71.600 766 73.600 771.200 74.400C777 75.200 783.500 74.800 788.500 73.400"/>
<path class="k" d="M770.100 74.300L769.100 83.200"/>
<!-- part 10 flange -->
<path class="hw" d="M757.400 47.700C758 45 760 42.800 762.700 41.300C767 39 772 37.300 777.500 36.400C782.500 35.600 787.500 35.800 792.400 36.900C798.500 38.300 804 40.400 809.300 43.200C813.500 45.300 817.500 48 820.400 50.800C822.200 52.800 822.600 55.500 821.600 58C820.200 60.800 817.500 62.500 814.500 63.300C807 64.800 799.500 65.400 792.300 65.300C786 65 780 63.800 774 61.800C769.500 60 765 57.500 761.500 54.600C759 52.600 757.200 50 757.400 47.700Z"/>
<path class="k" d="M757.400 47.700C758.500 49.400 760.500 50.800 763 52C768 54.200 772 55.400 775.400 56.100C781 57.200 787 57.700 792.300 57.500C799 57.400 806 56.800 812 55.800C815 55.300 818 54.800 820.500 53.600"/>
<path class="k" d="M764.800 46.700C766 44.500 768.500 42.800 771.500 41.600C774 40.600 777 39.800 779.700 39.500C784.500 39 789.500 39.400 794.500 40.500C801.500 42.800 808.500 46.400 813.600 50.600C813.800 52 812 53.200 809.300 54C802.500 54.800 795.500 55 788.100 54.600C782 54.200 776 53.200 771.200 51.600C768 50.400 765 48.600 764.800 46.700Z"/>
<ellipse class="hw" cx="784.500" cy="45.300" rx="9.200" ry="4.100" transform="rotate(8 784.5 45.3)"/>
<ellipse class="k" cx="785" cy="44.800" rx="5.400" ry="2.200" transform="rotate(8 785 44.800)"/>
<path class="k" d="M775.500 46.500L775.700 50.500C777.500 53 783 54.600 788 54.400C791 54.200 793.500 53 793.600 51L793.500 47"/>
<ellipse class="k" cx="801.400" cy="49.600" rx="5.400" ry="2.600" transform="rotate(12 801.4 49.6)"/>
<path class="k" d="M770 47L773.500 50.500M768.500 49.500L771.500 52.200"/>
</g>
<circle class="b" cx="777.0" cy="20.7" r="0.50"/><circle class="b" cx="780.8" cy="22.6" r="0.50"/><circle class="b" cx="769.3" cy="18.0" r="0.50"/><circle class="b" cx="777.6" cy="19.5" r="0.50"/><circle class="b" cx="774.1" cy="19.4" r="0.50"/><circle class="b" cx="774.9" cy="19.3" r="0.50"/><circle class="b" cx="773.2" cy="18.9" r="0.50"/><circle class="b" cx="785.4" cy="22.3" r="0.50"/><circle class="b" cx="795.1" cy="23.4" r="0.50"/><circle class="b" cx="801.3" cy="24.5" r="0.50"/><circle class="b" cx="805.3" cy="25.0" r="0.50"/><circle class="b" cx="804.2" cy="25.7" r="0.50"/><circle class="b" cx="786.8" cy="23.5" r="0.50"/><circle class="b" cx="805.0" cy="25.0" r="0.50"/><circle class="b" cx="813.4" cy="25.1" r="0.50"/><circle class="b" cx="806.2" cy="25.8" r="0.50"/><circle class="b" cx="805.4" cy="25.3" r="0.50"/><circle class="b" cx="813.4" cy="25.7" r="0.50"/><circle class="b" cx="812.9" cy="26.2" r="0.50"/><circle class="b" cx="807.4" cy="24.7" r="0.50"/><circle class="b" cx="824.4" cy="25.1" r="0.50"/><circle class="b" cx="781.5" cy="8.4" r="0.50"/><circle class="b" cx="769.2" cy="12.3" r="0.50"/><circle class="b" cx="783.7" cy="7.8" r="0.50"/><circle class="b" cx="784.8" cy="7.1" r="0.50"/><circle class="b" cx="775.4" cy="11.4" r="0.50"/><circle class="b" cx="772.1" cy="12.9" r="0.50"/><circle class="b" cx="782.0" cy="8.7" r="0.50"/><circle class="b" cx="805.1" cy="7.5" r="0.50"/><circle class="b" cx="826.6" cy="19.7" r="0.50"/><circle class="b" cx="816.8" cy="13.3" r="0.50"/><circle class="b" cx="806.8" cy="7.8" r="0.50"/><circle class="b" cx="821.9" cy="15.0" r="0.50"/><circle class="b" cx="805.2" cy="6.7" r="0.50"/><circle class="b" cx="813.0" cy="11.9" r="0.50"/><circle class="b" cx="772.7" cy="57.7" r="0.50"/><circle class="b" cx="763.6" cy="51.9" r="0.50"/><circle class="b" cx="769.1" cy="55.0" r="0.50"/><circle class="b" cx="772.4" cy="57.5" r="0.50"/><circle class="b" cx="771.5" cy="57.5" r="0.50"/><circle class="b" cx="764.6" cy="53.1" r="0.50"/><circle class="b" cx="768.9" cy="56.2" r="0.50"/><circle class="b" cx="794.4" cy="61.9" r="0.50"/><circle class="b" cx="789.5" cy="60.9" r="0.50"/><circle class="b" cx="782.4" cy="60.3" r="0.50"/><circle class="b" cx="795.7" cy="62.2" r="0.50"/><circle class="b" cx="784.7" cy="59.9" r="0.50"/><circle class="b" cx="781.0" cy="60.9" r="0.50"/><circle class="b" cx="782.8" cy="61.0" r="0.50"/><circle class="b" cx="811.3" cy="60.4" r="0.50"/><circle class="b" cx="803.8" cy="60.5" r="0.50"/><circle class="b" cx="806.7" cy="60.9" r="0.50"/><circle class="b" cx="802.6" cy="61.4" r="0.50"/><circle class="b" cx="807.4" cy="60.4" r="0.50"/><circle class="b" cx="801.1" cy="61.2" r="0.50"/><circle class="b" cx="814.1" cy="60.1" r="0.50"/><circle class="b" cx="767.5" cy="42.6" r="0.50"/><circle class="b" cx="774.1" cy="40.1" r="0.50"/><circle class="b" cx="775.4" cy="40.2" r="0.50"/><circle class="b" cx="776.4" cy="38.8" r="0.50"/><circle class="b" cx="765.2" cy="44.0" r="0.50"/><circle class="b" cx="769.5" cy="41.8" r="0.50"/><circle class="b" cx="772.3" cy="40.5" r="0.50"/><circle class="b" cx="808.9" cy="45.4" r="0.50"/><circle class="b" cx="810.0" cy="46.3" r="0.50"/><circle class="b" cx="810.5" cy="46.4" r="0.50"/><circle class="b" cx="806.1" cy="43.6" r="0.50"/><circle class="b" cx="811.0" cy="45.8" r="0.50"/><circle class="b" cx="805.9" cy="43.6" r="0.50"/><circle class="b" cx="799.3" cy="40.3" r="0.50"/><circle class="b" cx="758.8" cy="66.3" r="0.50"/><circle class="b" cx="759.7" cy="68.7" r="0.50"/><circle class="b" cx="760.4" cy="65.9" r="0.50"/><circle class="b" cx="758.9" cy="68.7" r="0.50"/><circle class="b" cx="760.5" cy="65.1" r="0.50"/><circle class="b" cx="760.2" cy="63.6" r="0.50"/><circle class="b" cx="773.1" cy="80.3" r="0.50"/><circle class="b" cx="782.8" cy="81.7" r="0.50"/><circle class="b" cx="779.4" cy="81.0" r="0.50"/><circle class="b" cx="765.2" cy="78.7" r="0.50"/><circle class="b" cx="783.0" cy="82.0" r="0.50"/><circle class="b" cx="770.2" cy="78.4" r="0.50"/><circle class="b" cx="767.6" cy="63.6" r="0.50"/><circle class="b" cx="768.5" cy="64.2" r="0.50"/><circle class="b" cx="773.5" cy="63.6" r="0.50"/><circle class="b" cx="772.6" cy="63.6" r="0.50"/><circle class="b" cx="787.9" cy="66.1" r="0.50"/><circle class="b" cx="771.9" cy="63.8" r="0.50"/><circle class="b" cx="773.2" cy="72.2" r="0.50"/><circle class="b" cx="774.9" cy="71.2" r="0.50"/><circle class="b" cx="767.0" cy="70.9" r="0.50"/><circle class="b" cx="771.3" cy="71.8" r="0.50"/><circle class="b" cx="764.4" cy="70.6" r="0.50"/><circle class="b" cx="786.1" cy="71.0" r="0.50"/><circle class="b" cx="774.5" cy="78.5" r="0.50"/><circle class="b" cx="775.7" cy="77.5" r="0.50"/><circle class="b" cx="779.9" cy="78.8" r="0.50"/><circle class="b" cx="773.9" cy="76.8" r="0.50"/><circle class="b" cx="778.1" cy="77.7" r="0.50"/><circle class="b" cx="778.3" cy="77.8" r="0.50"/>
<!-- 20_small_left.svg -->
<defs>
<g id="nut3">
<path class="w" d="M-2.500 -6.500L-8.600 -4.400Q-10.400 0 -9.200 4.800L-2.500 7.200" style="stroke-width:1.7"/>
<path class="t" d="M-7 -4.5Q-8.5 0 -7.5 4"/>
<ellipse class="hw" cx="0" cy="0" rx="5.8" ry="7.7" transform="rotate(14)"/>
<ellipse class="w" cx="0.4" cy="0" rx="4.1" ry="5.9" transform="rotate(14)"/>
<ellipse class="h" cx="-0.3" cy="-0.3" rx="1.9" ry="3.5" transform="rotate(14)" style="stroke-width:2"/>
</g>
</defs>
<use href="#nut3" x="29.8" y="73.8"/>
<use href="#nut3" x="409.8" y="229.2"/>
<!-- washer 13 -->
<g>
<path class="hw" d="M424 235.3L421 236.3Q420 238.5 421.3 240.6L424.5 240.3"/>
<ellipse class="hw" cx="431.3" cy="238.6" rx="7.2" ry="9.6" transform="rotate(18 431.3 238.6)"/>
<ellipse class="w" cx="432.6" cy="238.9" rx="5.6" ry="8.2" transform="rotate(18 432.6 238.9)"/>
<ellipse class="k" cx="430.3" cy="239.3" rx="2.2" ry="4.6" transform="rotate(18 430.3 239.3)"/>
<path class="k" d="M431.6 234.6L429.2 244"/>
</g>
<!-- clips 26 -->
<g>
<ellipse class="k" cx="111.3" cy="142.8" rx="3.3" ry="2.4" transform="rotate(-20 111.3 142.8)"/>
<path class="k" d="M108.2 142.2Q106 142 106.2 144.5Q106.6 146.5 108.6 145.6"/>
<path class="k" d="M298.6 199.5Q301 197 301.8 200.5"/>
<ellipse class="k" cx="300" cy="204.8" rx="1.9" ry="3.8"/>
</g>

<!-- 21_clamps.svg -->
<defs>
<g id="clamp8">
<path class="k" d="M161 110.5C152 116 147 128 150.6 139C153 146 158 149.5 163 148.8C172 147.5 181 137 180.5 126C180.2 119 178 114.5 174.8 112.8"/>
<path class="k" d="M170.4 112.9C161 117.5 153.2 128 154 138C154.6 143 157.5 146.8 161.5 148.6"/>
<path class="k" d="M174.8 112.8C177.2 118 177 128 171 136C166 142.5 161 145.3 157 144.8"/>
<path class="k" d="M176 130.3L179.8 131.5"/>
<path class="w" d="M159.8 110.8L160 107.6L162.6 107L163.6 110L161.5 111.5Z"/>
<path class="w" d="M167.3 112.3L168.2 109.6L171.6 109L172 111.6L169.5 113.3Z"/>
<path class="w" d="M150.8 121.5L147.3 122L147.6 125.3L150.3 125.6Z"/>
<path class="w" d="M154.6 123L157.4 122.6L157.6 127L154.8 127.6Z"/>
<path class="k" d="M161 110.5L170.4 112.9"/>
</g>
</defs>
<use href="#clamp8"/>
<use href="#clamp8" x="124" y="51.2"/>

<!-- 22_hose.svg -->
<g fill="none">
<path d="M116 152.6C118 159 120 165 123 169.5C125.5 172.8 128 173.6 132 174.6L185.800 189.900" stroke="#000" stroke-width="6.4"/>
<path d="M116.500 154C118.300 159.500 120 165 123 169.500C125.500 172.800 128 173.600 132 174.600L184.400 189.500" stroke="#fff" stroke-width="2.900"/>
<path d="M117.200 156C118.700 160 120.200 165 123 169.300C125.200 172.600 128 173.500 132 174.500L183.500 189.300" stroke="#000" stroke-width="0.9" stroke-dasharray="0.1 4.3" stroke-linecap="round" transform="translate(0.300 -0.700)"/>
<path d="M118.200 158C119.700 162 120.800 165.500 123.400 169.300C125.500 172.400 128 173.400 132 174.400L182.500 188.900" stroke="#000" stroke-width="0.9" stroke-dasharray="0.1 5.1" stroke-linecap="round" transform="translate(-0.300 0.700)"/>
<path d="M189.300 191.600L226 207.800C230 209.800 235 211.600 241 211.600L290.800 207.800" stroke="#000" stroke-width="6.4"/>
<path d="M190.700 192.200L226 207.800C230 209.800 235 211.600 241 211.600L289.500 207.900" stroke="#fff" stroke-width="2.900"/>
<path d="M192 192.800L226 207.800C230 209.800 235 211.600 241 211.600L289 207.900" stroke="#000" stroke-width="0.9" stroke-dasharray="0.1 4.3" stroke-linecap="round" transform="translate(0.200 -0.700)"/>
<path d="M193.500 193.500L226 207.800C230 209.800 235 211.600 241 211.600L288 208" stroke="#000" stroke-width="0.900" stroke-dasharray="0.1 5.1" stroke-linecap="round" transform="translate(-0.200 0.700)"/>
</g>

<!-- 30_tierod.svg -->
<g transform="translate(471.7 255.4) rotate(20.7)">
<!-- left threaded stub -->
<path d="M-31.5 0H-17" stroke="#000" stroke-width="5.2" fill="none"/>
<path d="M-31 0H-17" stroke="#fff" stroke-width="2.600" fill="none" stroke-dasharray="0.600 1.400"/>
<!-- neck -->
<path class="hw" d="M-13 -6.8C-17 -6.8 -18.5 -3 -18.5 0C-18.5 3 -17 6.8 -13 6.8Z"/>
<!-- main body -->
<path class="hw" d="M0 -9.9L-10 -9.9C-15 -9.9 -17 -5 -17 0C-17 5 -15 9.9 -10 9.9L0 9.9Z"/>
<ellipse class="k" cx="-11.5" cy="0.5" rx="2.2" ry="3.4"/>
<path class="t" d="M-9 7.5L-3 7.5"/>
<ellipse class="hw" cx="0" cy="0" rx="6" ry="9.9"/>
<ellipse class="w" cx="0.4" cy="0" rx="4.2" ry="7.4"/>
<path class="t" d="M-1 -6.5C-2.5 -3 -2.5 3 -1 6.5"/>
<!-- rod -->
<path class="w" d="M2.5 -2.6L21 -2.6L21 2.6L2.5 2.6Z"/>
<path class="w" d="M2.5 -3.2L6 -3.2L6 3.2L2.5 3.2"/>
<path d="M21 0H39.5" stroke="#000" stroke-width="5.6" fill="none"/>
<path d="M21.500 0H39" stroke="#fff" stroke-width="2.800" fill="none" stroke-dasharray="0.600 1.400"/>
<path class="t" d="M9 -0.3L20 -0.3"/>
</g>
<!-- nut 24 -->
<g transform="translate(522 275.700)">
<path class="w" d="M-1.500 -7.800L-6.300 -4.400L-7.200 2.600L-3.400 7.400L2 7.800L6 5.300L7.400 -1.500L4.800 -6.400Z" style="stroke-width:1.700"/>
<path class="k" d="M-6.300 -4.400L-3.600 -3.400L-4.200 2.600L-7.200 2.600M-4.200 2.600L-3.400 7.400M-3.600 -3.400L-1.500 -7.800"/>
<ellipse class="w" cx="1.700" cy="0.400" rx="4.500" ry="6.300" transform="rotate(12 1.700 0.400)"/>
<ellipse class="h" cx="2" cy="0.600" rx="1.400" ry="2.500" transform="rotate(12 2 0.600)" style="stroke-width:2.200"/>
</g>

<!-- 31_tierodend.svg -->
<g>
<!-- arm -->
<path class="w" d="M545 279.6C549 280.3 552.5 280.6 555 282C558.5 283.8 560.5 286 562.5 288.6C565 292 567 295.5 570 297.8C574 300.7 579.5 302.5 585 304L605 308.2C610 309 615 309.6 619 310L621 323.6C619 321.5 617 320.4 614.5 320.3C611 320.3 608 322.6 605 323.2L589.5 322.2C582 320 574 317.5 568 314C563.5 311 560.5 309 558 306C555.5 302.5 554 299.5 551 297C548.5 295 545 292.6 541.8 291.3Z"/>
<path class="k" d="M544 285C547.5 285.4 551 285.8 553.5 287.2C556.5 289 558.3 292 560.3 295C562.3 298 564.5 300.3 568 302.2C573 305 579 308 585 309.8L605 314C609 314.8 613 315.6 617 316"/>
<!-- hex end -->
<path class="hw" d="M538.800 276L545.400 279.400L544.400 285.400L542.400 291.800L537.600 290.600L534.200 287.600L533.600 282.400L535.400 278Z"/>
<path class="k" d="M538.800 276C540.500 279 541 284 540.200 288.600L537.600 290.600M540.200 288.600L542.400 291.800M541 282L545 282.600"/>
<!-- ball joint head -->
<path class="w" d="M618 312C618 315 619.5 321 621.5 324C624 326.6 631 326.8 634 324.8C636 321 636.3 316 636.2 312Z"/>
<ellipse class="hw" cx="627.1" cy="312" rx="9.1" ry="4.6"/>
<ellipse class="k" cx="627.1" cy="311.8" rx="6.2" ry="2.7"/>
<path class="t" d="M622.5 311L624.5 309.6H630L632 311L630 313.6H624.5Z"/>
<!-- stud -->
<path class="w" d="M622.6 326.4C623 329 624 331.5 624.6 333.5L624.3 344H630.3L630 333.5C630.6 331.5 631.5 329 632 326.4Z"/>
<path class="k" d="M624.6 333.5H630M624.4 336.5H630.2M624.4 339H630.2M624.3 341.5H630.3"/>
</g>
<!-- ring 16 -->
<g>
<ellipse class="hw" cx="626.8" cy="357.8" rx="9.4" ry="4.4"/>
<ellipse class="w" cx="626.8" cy="358.4" rx="6.8" ry="2.8"/>
</g>

<!-- 32_small_bottom.svg -->
<!-- boot 15 -->
<g>
<path class="hw" d="M618.7 375C617 378 616.8 381.5 618 384C619.5 386.5 620.6 388.5 621 391.3C623 393.5 631 393.5 633 391.3C633.4 388.5 634.5 386.5 636 384C637.2 381.5 637 378 635.3 375Z"/>
<ellipse class="hw" cx="627" cy="375" rx="8.3" ry="3.9"/>
<ellipse class="k" cx="627" cy="375.4" rx="5.8" ry="2.4"/>
<path class="k" d="M617.8 383.3C621 386.3 633 386.3 636.2 383.3"/>
<path class="k" d="M620.3 388.3C623 390.3 631 390.3 633.7 388.3"/>
<path class="t" d="M617.3 380C621 383.4 633 383.4 636.7 380"/>
</g>
<!-- nut 22 -->
<g>
<path class="hw" d="M621.5 401C621.3 404 621.8 406.5 622.6 408.6L624 410.6L626.2 409.6L627.6 411L629.4 409.6L631.4 410.4L632.4 408.4C633 406 633.2 403.6 633 401Z"/>
<ellipse class="hw" cx="627.2" cy="400.8" rx="5.8" ry="2.5"/>
<ellipse class="k" cx="627.2" cy="401" rx="2.6" ry="1.1"/>
<path class="k" d="M624.6 403.3L625 409.6M629.8 403.3L629.6 409.4M622 406.3C624 407.6 631 407.6 632.8 406"/>
</g>
<!-- pin 25 -->
<g>
<path d="M641.5 411.2L655.5 416" stroke="#000" stroke-width="3.6" stroke-linecap="round" fill="none"/>
<path d="M643 411.6L654 415.4" stroke="#fff" stroke-width="0.7" fill="none" stroke-dasharray="2 1.2"/>
</g>

<!-- 33_brackets.svg -->
<!-- bracket 6 -->
<g>
<path class="w" d="M508 184.2C507.5 188 506.5 192 505 196C503 201 501 205 497.5 207.4C494.5 209 491 209.3 486.5 209L474.5 212.8C472.5 214.5 472.5 217 474 219C475.5 220.8 477 221.4 479 221.4L490 221.2C493 220.6 495.5 219.4 498 218.2C502.5 218 507 217.6 510.5 216C514.5 213.8 517 210.5 518.8 207C520.8 203 522 198 522.8 193C523.2 191 523.6 189.5 524 188C526 187 527.5 185.8 528 184.2C527.8 182 525.5 180.4 523 180L513 180.4C510.5 181.4 508.8 182.6 508 184.2Z"/>
<path class="k" d="M508 184.2C510.5 187.5 514.5 189 518 189.2C520 189.2 522.5 188.8 524 188"/>
<path class="k" d="M518 189.2C518.3 192 518 195 517 198C515.8 202 514.3 205.5 512 208.2C509.5 211 506.5 213.2 503 214C501 214.3 499 214.2 497.2 213.6"/>
<path class="k" d="M486.5 209L494.3 214.2M489.5 207.8L498 213.4M494.3 214.2L498 218.2"/>
<ellipse class="k" cx="519.6" cy="183.2" rx="2.2" ry="1.3"/>
<ellipse class="k" cx="480.2" cy="216.2" rx="2.3" ry="1.2"/>
</g>
<!-- bracket 4 -->
<g>
<path class="w" d="M480 55.3C480.2 50 480.6 46 481.5 41.8C482.8 36.5 484.5 33 486.8 29.8C489 27 491.5 25.2 495 24.4C498 23.9 500.5 24.2 503 25C505.5 25.8 507.5 26.8 509.7 27.8L516.4 27.4C518 26.4 520 26.2 522 26.4C525.5 27 527.4 28.6 527.5 30.8C527.5 32.5 526 33.8 524 34.6L517 36.8C514.5 36.2 511.5 34.6 508.5 33.2L505.6 32.2C503 34.5 500.8 36.5 499 38.7C497 41.5 495.6 45 494.8 48.6C494.3 52 494.5 57 494.9 61.3C494.5 63 493 64.3 490.9 64.7L475 64.6C472.5 64 470.8 62.5 470.7 60.6C470.7 59 471.5 58 472.8 57.3Z"/>
<path class="k" d="M480 55.3L492.9 61.4C492.3 57 492 52.5 492.3 48.6C493 44.5 494.3 41 496.2 37.8C498 35 500.3 32.5 503 30.4C505 29 507.5 28.2 510.3 28.4L516.4 27.4"/>
<path class="k" d="M505.6 32.2L509.5 29.2M492.9 61.4L494.9 61.3"/>
<path class="k" d="M510.5 29.5C513 31.2 515.5 33.2 517.5 35.4"/>
<ellipse class="k" cx="519.8" cy="30.2" rx="2.5" ry="1.5"/>
<ellipse class="k" cx="478.8" cy="59.2" rx="2.5" ry="1.3"/>
</g>
<!-- bolt 23 -->
<g>
<path class="w" d="M519.6 233L519.6 220C520.5 218.6 523.5 218.6 524.4 220L524.4 233Z"/>
<path class="k" d="M519.6 222.5H524.4M519.6 225H524.4M519.6 227.500H524.4M519.6 230H524.4"/>
<path class="hw" d="M517.2 238L517.6 243.6L520 245.6L525.4 245.6L527.6 243.4L527.8 238Z"/>
<path class="k" d="M520.4 239.5L520.6 245.2M525 239.5L525 245.2"/>
<path class="hw" d="M514.6 234.4V236.6C515.5 239.6 528.5 239.6 529.4 236.6V234.4Z"/>
<ellipse class="hw" cx="522" cy="234.4" rx="7.4" ry="2.5"/>
<path class="k" d="M519.2 233.6C520 234.8 524 234.8 524.8 233.6"/>
</g>

<!-- 40_rack.svg -->
<g>
<!-- rod left -->
<path class="w" d="M426 64.6L473 83.5L466 97.5L423.3 77.8C421 77.3 419.2 75.6 419.2 73.6L419.6 72L421 71.2L420.2 69.6C420 66.5 422.5 64 426 64.6Z"/>
<path class="k" d="M426 64.6C424 66.5 423.3 69 423.4 71.5C423.4 74 423.5 76.2 423.3 77.8M421 71.2L423.4 71.5"/>
<!-- tube -->
<path class="w" d="M488 81.4L668 157.9L660 187L474 107Z" style="stroke:none"/>
<path class="k" d="M490 82.3L660 154.5M478 109.2L712.5 210"/>
<!-- collar rings -->
<ellipse class="w" cx="473.5" cy="91.2" rx="6.6" ry="15.0" transform="rotate(23.4 473.5 91.2)"/>
<ellipse class="w" cx="475.8" cy="92.2" rx="7.2" ry="16.3" transform="rotate(23.4 475.8 92.2)"/>
<ellipse class="w" cx="477.8" cy="93.1" rx="7.2" ry="16.3" transform="rotate(23.4 477.8 93.1)"/>
<ellipse class="w" cx="481.1" cy="94.5" rx="6.6" ry="15.0" transform="rotate(23.4 481.1 94.5)"/>
<ellipse class="w" cx="483.3" cy="95.5" rx="7.2" ry="16.3" transform="rotate(23.4 483.3 95.5)"/>
<ellipse class="w" cx="485.6" cy="96.4" rx="7.2" ry="16.3" transform="rotate(23.4 485.6 96.4)"/>
<ellipse class="w" cx="488.3" cy="97.6" rx="6.7" ry="15.2" transform="rotate(23.4 488.3 97.6)"/>
<path class="w" d="M495.6 84.7L516 93.3L503 120L483.3 111.5Z" style="stroke:none"/>
<path class="k" d="M495.6 84.7L516 93.3M483.3 111.5L503 120"/>
<path class="k" d="M498.6 86.8C494.5 87.7 489.5 94.2 487.6 101.2C486 107.2 486.8 112.7 489 115.8"/>
</g>

<!-- 41_pipes.svg -->
<g fill="none">
<!-- pipe A -->
<path d="M538 88C538.2 84 538.8 80 540.5 77.6C542.3 75.2 546 75 548 77C550.3 79.5 550.8 84 551 88L551.4 96.5C551.6 100 553 101.8 556 103.2L667 150.650" stroke="#000" stroke-width="5.6" stroke-linejoin="round"/>
<path d="M538 88C538.2 84 538.8 80 540.5 77.6C542.3 75.2 546 75 548 77C550.3 79.5 550.8 84 551 88L551.4 96.5C551.6 100 553 101.8 556 103.2L667 150.650" stroke="#fff" stroke-width="2.8" stroke-linejoin="round"/>
</g>
<!-- fitting -->
<g>
<path class="hw" d="M531.3 93.6L530 103.4C531 106.2 537.5 107.5 539 105.6L541.2 95.4C540 92.5 533 91.4 531.3 93.6Z"/>
<path class="k" d="M531.3 93.8C533 96.4 539.5 97.6 541.2 95.5"/>
<path class="hw" d="M533 85.8L532.4 90.4L535 92.4L540.4 93L541.8 90.6L541.6 86.8L538.6 85Z"/>
<path class="k" d="M535.3 87.4L535 92.2M535.3 87.4L533 85.8M535.3 87.4L541.6 87.2"/>
</g>
<!-- clamp pieces between pipe and tube -->
<g>
<path class="w" d="M608.4 129L611.8 130.4L612.6 133.6L609.2 132.2Z"/>
<path class="w" d="M626.6 136.6L629.2 137.7L629.6 141L627 139.9Z"/>
<path class="w" d="M634.6 140L637.6 141.3L638 144.4L635 143.1Z"/>
<path class="w" d="M654 148.2L658.6 150.2L658.2 153.3L653.6 151.3Z"/>
<path class="b" d="M616 131.6L621.5 133.4L622.6 135.2L617 133.6Z"/>
<path class="w" d="M618 127.6C618.5 125.6 620.5 124.6 623 125L628 126.4C629 126.8 629.3 127.6 629.4 128.4L637.5 128.4C639.5 129 641.5 131 642 133.4L641.6 136.2"/>
<path class="k" d="M623.5 127.2L629.5 129.4M631 130.4L636.5 130.6L640 133.6"/>
</g>

<!-- 42_housing.svg -->
<g>
<!-- cast housing body -->
<path class="w" d="M657.4 156.6C653 159 649.5 164 649.5 169C649.5 174 651 179.5 654.7 184L712.5 210L716 205L716 176L700 160Z" style="stroke:none"/>
<path class="h" d="M657.4 156.8C653 159.4 649.6 164 649.6 169C649.6 174 651 179.5 654.7 184"/>
<path class="k" d="M660.6 159C656.5 161.5 653.8 165 653.8 169.5C653.8 174 654.8 178.5 657 182.6"/>
<path class="k" d="M657.4 156.8L664 155.6L700 163"/>
<!-- slots -->
<path class="h" d="M715.7 189.5L657.5 170.2C655.3 169.8 654.6 171 655 172.4C655.4 173.6 656.4 174 657.5 174.2L715.7 193.6"/>
<path class="h" d="M715.7 197.8L658 177.8C656.2 177.6 655.6 178.8 656.2 180C656.8 181 657.8 181.4 659 181.6L715.7 201.4"/>
<path class="h" d="M660 185.300L715.700 206"/>
<!-- windows -->
<path class="h" d="M660.500 160.600L674.500 164C677 164.600 678 166 677 167.500L673.700 172.200"/>
<path class="k" d="M662 163.4L672.5 166.3C673.8 166.8 674 167.6 673.5 168.5L671.6 171.5"/>
<path class="h" d="M715.700 178.400L684 168.400C681 167.800 679 169 677.800 171.500L676.800 174.200"/>
<path class="k" d="M715.7 181.6L686 172C683.5 171.6 682 172.6 681.2 174.4L680.4 176"/>
<!-- boss -->
<path class="w" d="M693.4 165.6V169.6C694.5 172.6 705.5 172.6 706.6 169.6V165.6Z"/>
<ellipse class="w" cx="700" cy="165.6" rx="6.6" ry="3.3"/>
<path class="k" d="M706.6 163.5C708.5 164 710 165.8 710.2 168L710.4 176.5"/>
<!-- small boss under -->
<path class="w" d="M695.2 203V205.6C696.2 208 701.6 208 702.6 205.8V205.6"/>
</g>

<!-- 43_gearbox.svg -->
<g>
<!-- end shaft -->
<path class="w" d="M763 205.5L787.5 213C792 213.6 796 217 797 222C797.6 227 795.5 231.5 791.5 232.6C789 233.2 786.5 232.8 784 231.9L763 226.5Z"/>
<path class="k" d="M787.5 213C784.5 214.5 782.6 219 782.8 223.5C783 227.5 784.5 230.6 786.5 232.4"/>
<path class="k" d="M790.5 218.5L796 220M789.6 222.6L795 224.6M790.4 227L794.6 228.6M791 216.5C789.6 219 789 224 790 229"/>
<path class="b" d="M793.5 221.5L797 222.5L797 226.5L793.5 225.5Z"/>
<!-- spring threads -->
<path d="M760 210.8L778 217.2" stroke="#000" stroke-width="7" fill="none"/>
<path d="M760 210.8L778 217.2" stroke="#fff" stroke-width="4.6" fill="none" stroke-dasharray="1 1.6"/>
<path class="w" d="M777 216L781.5 217.4C782.6 218 782.6 219.6 781.2 220L776.5 218.8Z"/>
<!-- rings -->
<ellipse class="hw" cx="750.2" cy="210.5" rx="7.6" ry="17" transform="rotate(14 750.2 210.5)"/>
<ellipse class="w" cx="752.6" cy="211" rx="7.2" ry="15.8" transform="rotate(14 752.6 211)"/>
<ellipse class="w" cx="755.4" cy="211.6" rx="6.8" ry="14.6" transform="rotate(14 755.4 211.6)"/>
<ellipse class="w" cx="758" cy="212.2" rx="6.4" ry="13.6" transform="rotate(14 758 212.2)"/>
<ellipse class="hw" cx="765" cy="212.6" rx="11.6" ry="17" transform="rotate(14 765 212.6)"/>
<ellipse class="w" cx="764.6" cy="214" rx="7.4" ry="12.8" transform="rotate(14 764.6 214)"/>
<path class="w" d="M766 207.2L787.5 213.4L784 231.5L768 227.2C771 222 771.5 213 766 207.2Z" style="stroke:none"/>
<path class="k" d="M767.5 207.4L787.5 213.2M768.6 227.4L784 231.7"/>
<path d="M761.500 211.400L778 217" stroke="#000" stroke-width="7.400" fill="none" stroke-dasharray="1.500 1.700"/>
<path d="M761.500 211.400L778 217" stroke="#000" stroke-width="1" fill="none" transform="translate(1.100 -3.300)"/>
<path d="M761.500 211.400L778 217" stroke="#000" stroke-width="1" fill="none" transform="translate(-1.100 3.300)"/>
<path class="w" d="M777 215.8L781.5 217.2C782.8 217.8 782.8 219.6 781.2 220L776.3 218.8Z"/>
<path class="k" d="M787.5 213.2C792 213.8 796 217 797 222C797.6 227 795.5 231.5 791.5 232.6C789 233.2 786.5 232.8 784 231.7"/>
<path class="k" d="M787.5 213.2C784.5 214.5 782.6 219 782.8 223.5C783 227.5 784.5 230.6 786.5 232.4"/>
<path class="k" d="M790.5 218.5L796 220M789.6 222.6L795 224.6M790.4 227L794.6 228.6M791 216.5C789.6 219 789 224 790 229"/>
</g>
<g>
<!-- vertical body -->
<path class="w" d="M716 168L715.400 224.500L744.400 226L746 200L764 194L764 184L730 178Z" style="stroke:none"/>
<path class="k" d="M715.800 168L715.500 224.500"/>
<path class="h" d="M719.7 224.5C718 218 717.4 211 718 204.7C718.6 198.5 719.6 193.5 721.4 190C722.8 187.4 724.3 186 726.3 185.8"/>
<path class="k" d="M730.4 187.4C733 191 734.4 195 734.5 199.8C734.6 204.5 734.4 209 733.7 213C732.8 217 730.5 220.5 728 222.8"/>
<path class="k" d="M726.3 185.8L730.4 187.4M744.4 185V200.6H735.4M735.4 200.6L735 211.5L742.5 213.6"/>
<path class="k" d="M728 206C729 207.5 729.2 209.5 728.6 211.5"/>
<!-- foot -->
<path class="w" d="M705.7 230.2C706.5 228 708 226.4 709.8 225.3C712 224 714 223.4 716.4 223.2C720 223.3 723.5 225.5 726.3 227C730 226.8 733.5 225.6 736.2 223.7L738.7 219.5L744.4 221.2L744.4 229.4C743.5 233.5 741.8 237 739.5 239.3C736 242.3 732 243.8 728 244.2L711.5 243.4C708.5 242.8 707 241.6 706.5 240.1Z"/>
<path class="k" d="M705.7 230.2C707 232.4 709 233.8 711.5 234.4C715 235.2 719.5 235.6 723 235.2C727.5 234.4 731.5 232 733.7 229.4C735.8 226.6 737.5 223 738.7 219.5"/>
<ellipse class="k" cx="715.6" cy="229" rx="6.2" ry="3.3"/>
</g>
<g>
<!-- valve base flange -->
<path class="w" d="M716.800 161.500L732.900 164.500L757.300 168.300L766 171L766 182.900C761 185.300 756 186.700 750.500 186.700C746 186.700 742 186.200 738.200 185.200C733.500 183.600 729.500 182 726 179.800C722.500 177.500 720 175.500 718.300 172.900C716.800 170.800 715.600 168.800 715.300 166.800C715.300 164.500 715.800 162.500 716.800 161.500Z"/>
<path class="k" d="M716.800 162.200C717.500 164 718.600 165.800 719.900 167.600C722 170.400 724.500 172.600 727.500 174.500C731 176.800 735 178.600 739.800 179.800C743.500 180.800 748 181.500 752 181.300C754.500 181 756.500 180.500 758.100 179.800L765.700 176.800"/>
<!-- legs -->
<path class="k" d="M745.900 186.800V196M752.800 186.700V194.300M764.200 184L763.500 194.300"/>
<!-- bolt -->
<path class="hw" d="M757 172.400L757.200 179.200L761.400 181L765.700 179.400L765.700 172.800C764 170.300 758.800 170.100 757 172.400Z"/>
<ellipse class="h" cx="761.400" cy="173" rx="2.700" ry="1.600"/>
<path class="k" d="M757.100 175.400C759 177 763.500 177 765.700 175.600"/>
<!-- valve cylinder -->
<path class="w" d="M742.4 135.5L731.8 162.4C734 167 740 170.8 745 170.8C750 171 754.5 170.4 756.5 169.4L765 139.8Z"/>
<path class="w" d="M763.2 153.4C765 153.2 766.4 155 766.2 158C766 161 764.2 163.4 761.6 163.2" />
<path class="k" d="M740.2 141.2C743 145.5 752 148.6 760 147.6L763 146.4M739.4 143.8C742.5 148 751.5 151 759.4 150.2L762.2 149.2"/>
<path class="k" d="M746 146.5L745.4 148.8M749.6 148.2L749.2 150.4"/>
<ellipse class="hw" cx="753.7" cy="136.4" rx="11.6" ry="5.4" transform="rotate(14 753.7 136.4)"/>
<ellipse class="w" cx="754" cy="136" rx="8.6" ry="3.6" transform="rotate(14 754 136)"/>
<!-- shaft -->
<path class="w" d="M762.8 93.4L750.6 133.6C752 136.4 759.5 138 762 135.4L770.6 96C770.4 93.5 769.6 91.6 768.4 90.8C766.6 90.2 764.6 90.8 762.8 93.4Z"/>
<path d="M766.4 93.8L764.2 101" stroke="#000" stroke-width="7" fill="none"/>
<path d="M766.400 93.800L764.200 101" stroke="#fff" stroke-width="4.200" fill="none" stroke-dasharray="0.500 1.200"/>
<path d="M763.3 104L762.1 108.400" stroke="#000" stroke-width="7.6" fill="none"/>
<path d="M763.300 104L762.100 108.400" stroke="#fff" stroke-width="4.800" fill="none" stroke-dasharray="0.500 1.200"/>
<path class="k" d="M765.6 90.8L769 91.2"/>
</g>

<!-- 44_pipesBC.svg -->
<g fill="none">
<path d="M655 145.500L691 160.900" stroke="#000" stroke-width="5.600"/>
<path d="M654 145.070L692 161.330" stroke="#fff" stroke-width="2.800"/>
</g>
<g fill="none" stroke-linecap="round" stroke-linejoin="round">
<path d="M721.500 147.600L716.500 143.800C714.500 142.800 712.500 143.200 711 144.800L704.500 154C702.500 157 699.500 158.600 696 157.400L665 146.800C661.200 145.600 661.200 140.300 665 140.800L693.500 149.700C696.500 150.600 698.500 149.600 700 147.200L706.500 137C708.300 134.200 711 133.200 714.500 134.300L722.500 137.400" stroke="#000" stroke-width="4.700"/>
<path d="M721.500 147.600L716.500 143.800C714.500 142.800 712.500 143.200 711 144.800L704.500 154C702.500 157 699.500 158.600 696 157.400L665 146.800C661.200 145.600 661.200 140.300 665 140.800L693.500 149.700C696.500 150.600 698.500 149.600 700 147.200L706.500 137C708.300 134.200 711 133.200 714.500 134.300L722.500 137.400" stroke="#fff" stroke-width="1.700"/>
</g>
<g>
<!-- fitting 2 (lower) -->
<path class="hw" d="M721 147L720.6 152L723 153.6L723 159.4L729.8 160.2L730 154.4L728.6 149.4L724.6 146.4Z"/>
<path d="M726.4 153.4V159.800" stroke="#000" stroke-width="6" fill="none" stroke-dasharray="0.9 0.9"/>
<path class="k" d="M723.400 148.2L723.200 153"/>
<!-- fitting 1 (upper) -->
<path class="hw" d="M722 135.400L721.4 141.6L724.8 143.800L733.5 147.6C735.5 148 737.6 145.5 738 142.400C738.4 139.4 737.2 137.400 735.5 136.800L726.5 134.300Z"/>
<path class="k" d="M725.6 135.400L724.800 143.6M733.800 137C732 139 731.4 143.600 732.8 146.800"/>
</g>

<!-- 50_clips7.svg -->
<g>
<path class="hw" d="M632.4 103.2L636.6 104.300L640.9 105.900L642.5 101.600L646.2 100L653.6 100.6L655.7 103.2L655.2 109.600L651.5 112.8L646.2 113.8L645.1 116.500L641.4 119.600L638.8 120.700L632.9 118L634 111.200Z"/>
<path class="k" d="M640.9 105.9L641.4 119.6M636.6 104.3C638.6 108 639.4 113 638.8 120.7"/>
<path class="k" d="M640.9 105.9C643 104.800 645 104.600 647.5 105L655.700 103.200M647.500 105L646.200 113.800"/>
<ellipse class="k" cx="649.9" cy="108.200" rx="1.6" ry="2.1" transform="rotate(25 649.9 108.2)"/>
<ellipse class="k" cx="643.6" cy="110.6" rx="1.3" ry="1.9" transform="rotate(15 643.6 110.6)"/>
<ellipse class="h" cx="635.6" cy="112" rx="0.900" ry="1.6"/>
<path class="k" d="M643.4 112.6L643 116"/>
</g>
<g>
<path class="hw" d="M677.9 99.5L685.300 100.600L688 105.900L687.400 114.300L689.6 121.700L685.300 121.700L682.100 122.800L677.900 125.400L672.600 124.900L671 121.700L673.100 118.600L673.100 108L675.300 102.200Z"/>
<path class="k" d="M680.6 104.8L680 120.700M680.6 104.800C681.500 102.500 683.500 101.200 685.300 100.600M680 120.700L677.900 125.400M680 120.700L682.100 122.800"/>
<path class="k" d="M673.300 108.400L677 107.200M673.200 113.200L677 112M673.200 118.400L676.600 117.400"/>
<ellipse class="k" cx="683.7" cy="110.1" rx="1.6" ry="2.100"/>
<ellipse class="k" cx="682.7" cy="118" rx="1.600" ry="2"/>
<path class="k" d="M686 111.500L688 112M686 119L689 120"/>
</g>

<!-- 52_small_right.svg -->
<!-- part 20 -->
<g>
<path class="w" d="M646 203.500V212.500C646.800 214.600 653.900 214.600 654.700 212.500V203.500Z"/>
<path class="hw" d="M641.500 199.800V202C642.800 205.400 657.600 205.400 658.900 202V199.800Z"/>
<ellipse class="hw" cx="650.200" cy="199.800" rx="8.700" ry="3.500"/>
<ellipse class="k" cx="650.200" cy="199.600" rx="3.700" ry="1.400"/>
</g>
<!-- part 19 left -->
<g>
<path class="hw" d="M642.500 226.500L644.600 232.600C645.600 235.600 648 236.400 650.400 236.400C652.800 236.400 655 235.600 656 232.600L658 226.500Z"/>
<path class="k" d="M644.200 231C647 232.800 653.500 232.800 656.400 231"/>
<path d="M645 230.600C647.500 231.800 653 231.800 655.600 230.600" stroke="#000" stroke-width="2.600" fill="none" stroke-dasharray="0.800 0.700"/>
<ellipse class="hw" cx="650.200" cy="225" rx="8.600" ry="3.600"/>
<ellipse class="h" cx="650.200" cy="225.200" rx="5" ry="2"/>
</g>
<!-- part 19 right -->
<g>
<path class="hw" d="M706.400 264.500V266.500C707.800 270 723 270 724.400 266.500V264.500Z"/>
<ellipse class="hw" cx="715.400" cy="264.600" rx="9" ry="3.100"/>
<path class="hw" d="M709 256L708.700 264C710 266.600 720.500 266.600 721.900 264L721.400 256Z"/>
<ellipse class="hw" cx="715.200" cy="256" rx="6.200" ry="2.500"/>
<ellipse class="k" cx="715.200" cy="256.300" rx="3.900" ry="1.400"/>
<path class="k" d="M712 258.400V264.800M718.500 258.400V264.800"/>
<path d="M710 266.800C712.500 268 718 268 721 266.800" stroke="#000" stroke-width="1.600" fill="none" stroke-dasharray="0.800 0.800"/>
</g>
<!-- bolt 21 -->
<g>
<path class="w" d="M712.200 313V283L715.200 277L718.400 283V313Z"/>
<path class="k" d="M712.200 284.500H718.400M712.200 287.200H718.400M712.200 289.900H718.400M712.200 292.600H718.400M712.200 295.300H718.400"/>
<path class="hw" d="M710 317L710.400 320.600L712.600 322.400H717.800L720 320.400L720.200 317Z"/>
<path class="k" d="M713 318.500V322M717.400 318.500V322"/>
<path class="hw" d="M707 314.400V316.200C708 319 722 319 723 316.200V314.400Z"/>
<ellipse class="hw" cx="715" cy="314.400" rx="8" ry="2.500"/>
<path class="k" d="M712.200 313.600C713 314.800 717.600 314.800 718.400 313.600"/>
</g>

<!-- 90_labels.svg -->
<g class="ld">
<path d="M97 52V76"/>
<path d="M28 85V113"/>
<path d="M161 84V108"/>
<path d="M105.8 146V175"/>
<path d="M284 131V158"/>
<path d="M237 214V248"/>
<path d="M300 210V237"/>
<path d="M345.8 232V262"/>
<path d="M409.4 239V263"/>
<path d="M432 248V270"/>
<path d="M433.3 285V300H465.2V266"/>
<path d="M448 300V310"/>
<path d="M522 285V307"/>
<path d="M531 235.8H560"/>
<path d="M528 31.6H559"/>
<path d="M445 148.8H479"/>
<path d="M528 184H556"/>
<path d="M651.8 74V99"/>
<path d="M688 107.6H706"/>
<path d="M724 16.6H764"/>
<path d="M724 48.6H757"/>
<path d="M764 139.3H803"/>
<path d="M617 201.6H641"/>
<path d="M617 224H641"/>
<path d="M649.6 238.5V249.4L707.5 228.4"/>
<path d="M725 265.7H744"/>
<path d="M724 316H752"/>
<path d="M636.5 324.7H674.6V379.3H663.5"/>
<path d="M663.5 356.7H683"/>
<path d="M637 356.7H646"/>
<path d="M637 379.5H646"/>
<path d="M601.5 402.5H621"/>
<path d="M649.3 403.5V411"/>
</g>
<g class="l">
<text transform="translate(97.8 49.0) scale(0.91 1)">12</text>
<text transform="translate(28.0 127.0) scale(0.91 1)">3</text>
<text transform="translate(161.0 81.0) scale(0.91 1)">8</text>
<text transform="translate(105.3 188.5) scale(0.91 1)">26</text>
<text transform="translate(284.0 128.0) scale(0.91 1)">8</text>
<text transform="translate(237.0 262.0) scale(0.91 1)">2</text>
<text transform="translate(300.5 250.5) scale(0.91 1)">26</text>
<text transform="translate(346.0 277.0) scale(0.91 1)">11</text>
<text transform="translate(409.4 275.5) scale(0.91 1)">3</text>
<text transform="translate(433.6 282.0) scale(0.91 1)">13</text>
<text transform="translate(447.5 323.5) scale(0.91 1)">1</text>
<text transform="translate(520.5 321.5) scale(0.91 1)">24</text>
<text transform="translate(569.4 240.5) scale(0.91 1)">23</text>
<text transform="translate(565.8 36.5) scale(0.91 1)">4</text>
<text transform="translate(437.6 153.5) scale(0.91 1)">5</text>
<text transform="translate(563.0 189.5) scale(0.91 1)">6</text>
<text transform="translate(651.8 72.5) scale(0.91 1)">7</text>
<text transform="translate(713.0 111.5) scale(0.91 1)">7</text>
<text transform="translate(718.0 21.5) scale(0.91 1)">9</text>
<text transform="translate(714.4 53.5) scale(0.91 1)">10</text>
<text transform="translate(815.0 144.3) scale(0.91 1)">18</text>
<text transform="translate(607.0 206.5) scale(0.91 1)">20</text>
<text transform="translate(607.5 229.0) scale(0.91 1)">19</text>
<text transform="translate(755.0 271.8) scale(0.91 1)">19</text>
<text transform="translate(761.8 321.0) scale(0.91 1)">21</text>
<text transform="translate(654.5 361.7) scale(0.91 1)">16</text>
<text transform="translate(654.5 384.7) scale(0.91 1)">15</text>
<text transform="translate(692.8 356.0) scale(0.91 1)">14</text>
<text transform="translate(692.8 370.0) scale(0.91 1)">17</text>
<text transform="translate(592.4 407.5) scale(0.91 1)">22</text>
<text transform="translate(649.3 401.5) scale(0.91 1)">25</text>
</g>
<text class="m" x="677.3" y="416.7" style="font-size:10.5px;letter-spacing:0.88px;font-weight:bold">S037-B3310A</text>
<g transform="translate(37,410) rotate(-22)">
<path class="b" d="M0 0L10.5 -9.6L12.2 -5.6L30 -5.6L30 5.600L12.2 5.600L10.500 9.600Z"/>
<text x="30.500" y="5" style="font-family:'Liberation Sans',sans-serif;font-weight:bold;font-size:14px;fill:#000;stroke:#000;stroke-width:0.5;">FR.</text>
</g>

</svg>
</body></html>
